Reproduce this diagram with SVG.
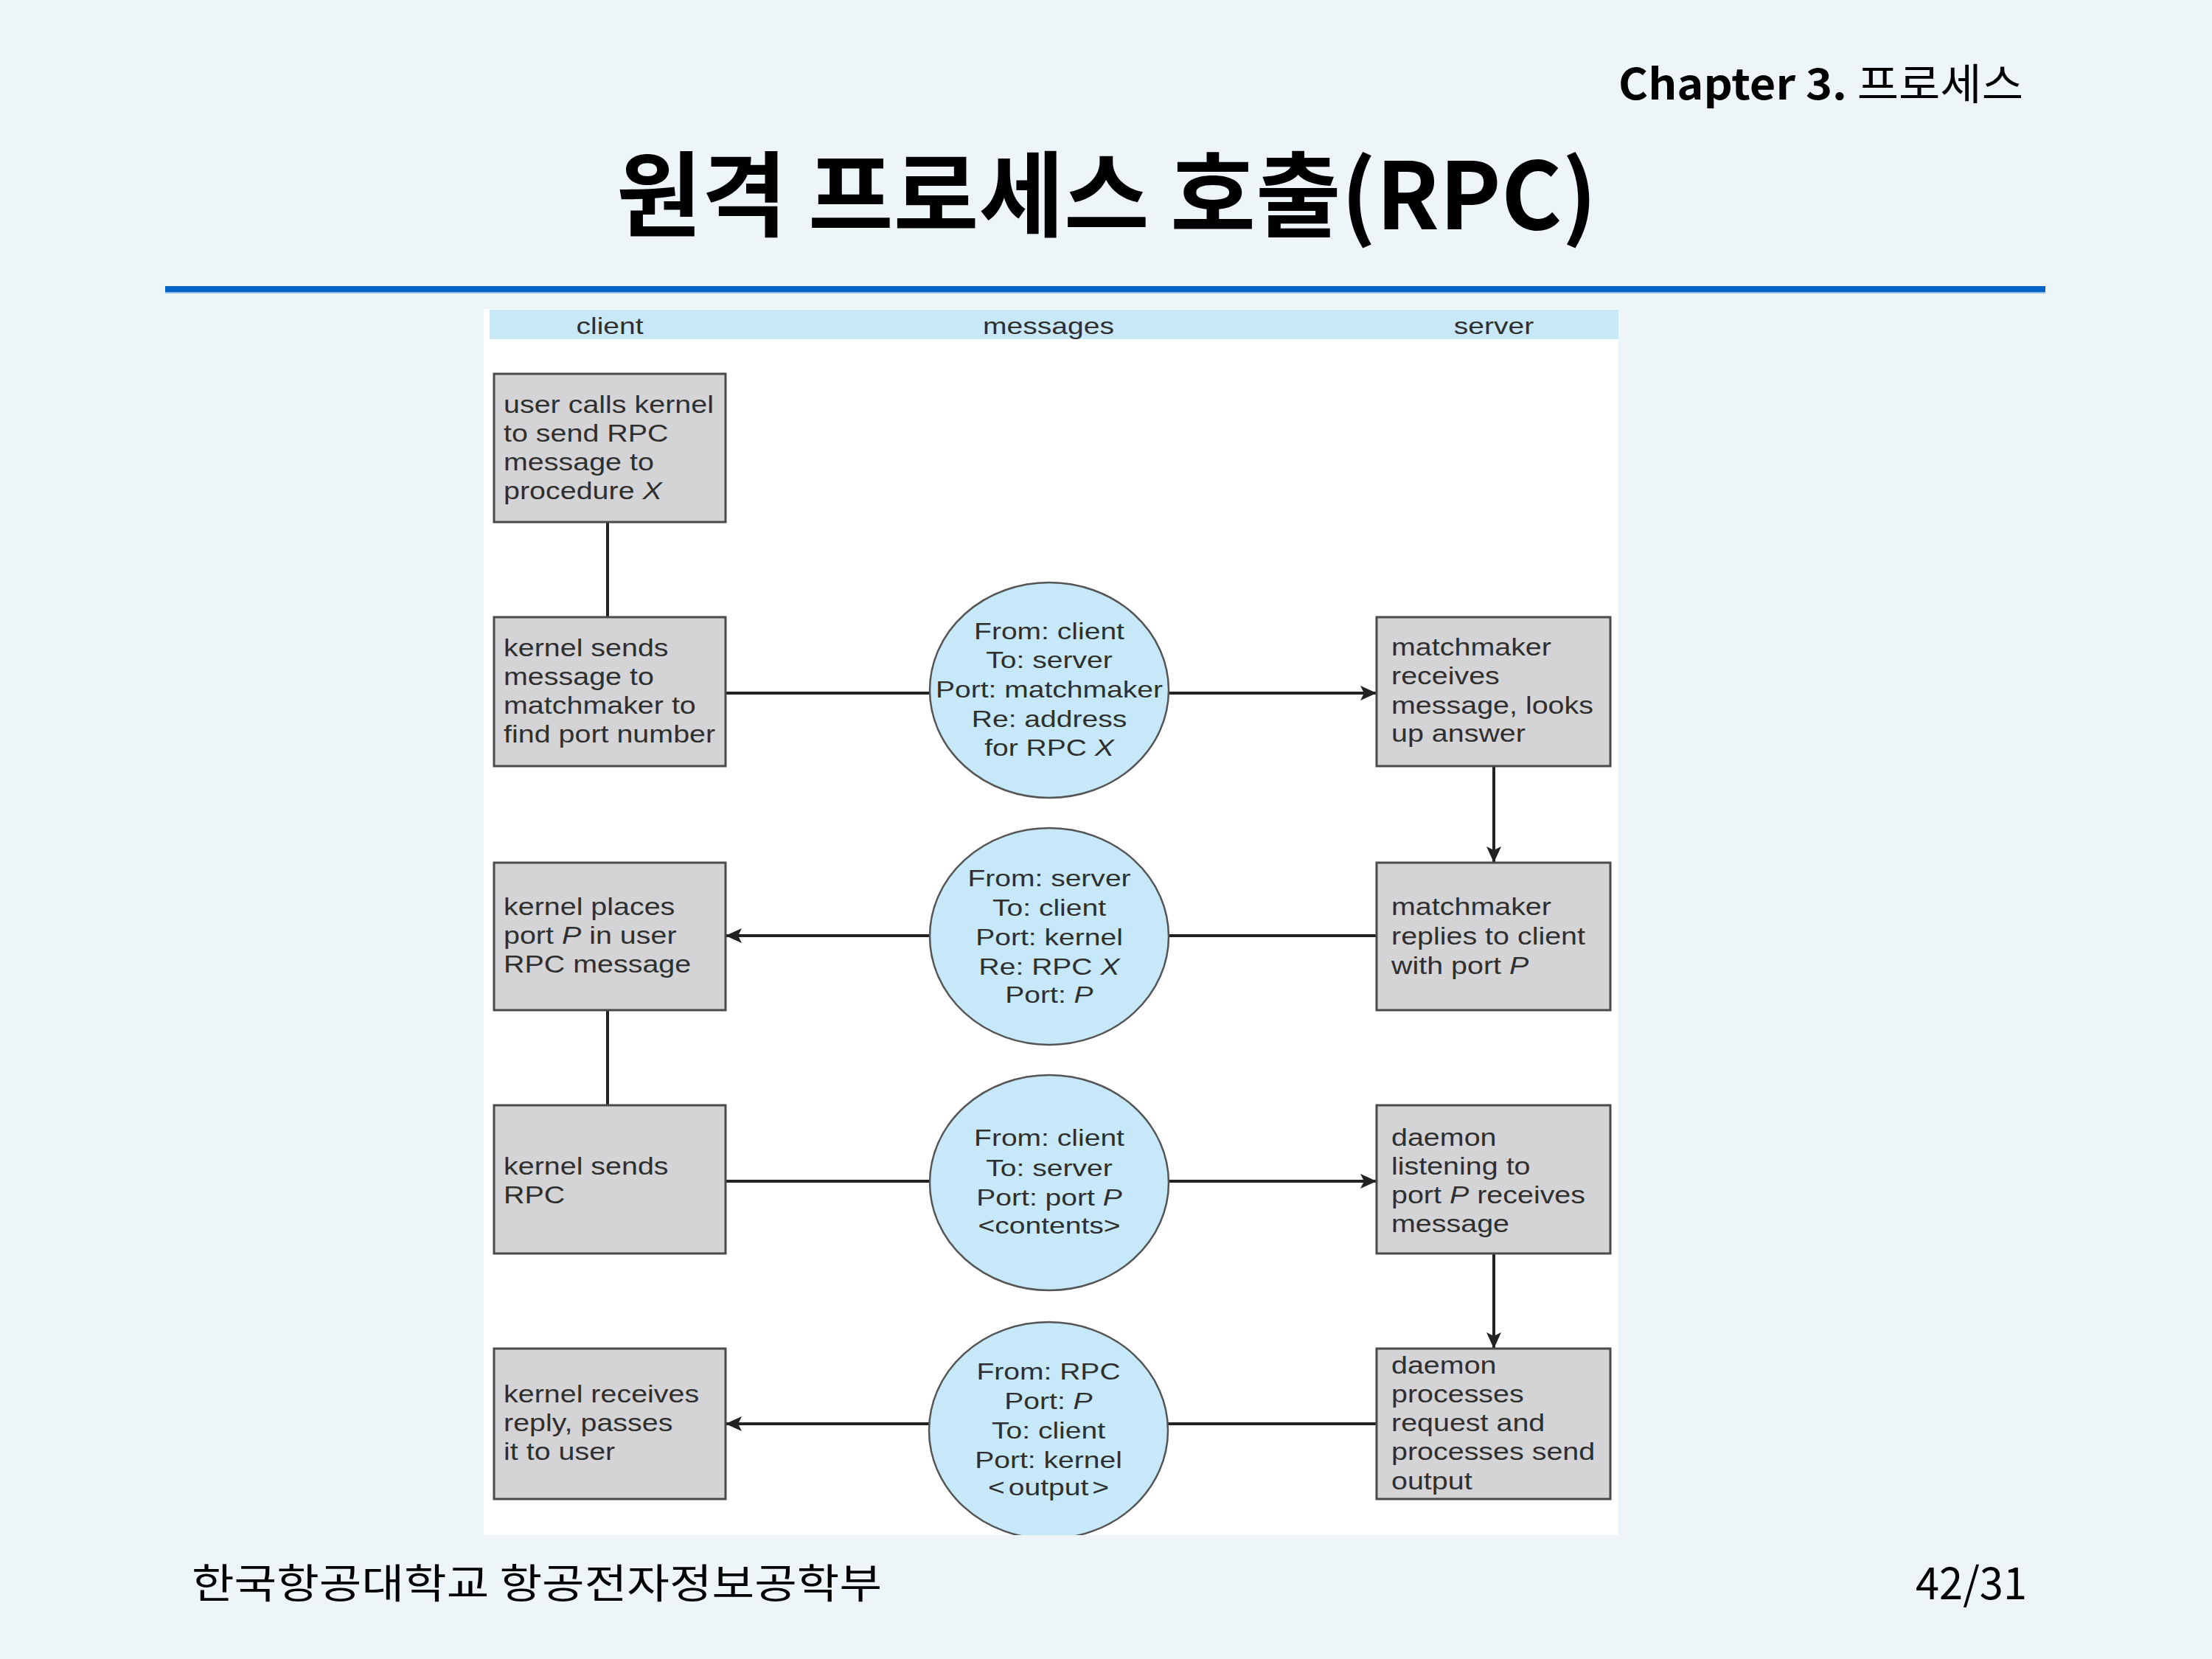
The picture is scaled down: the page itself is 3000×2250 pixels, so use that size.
<svg xmlns="http://www.w3.org/2000/svg" width="3000" height="2250" viewBox="0 0 3000 2250">
  <style>
    .kr { font-family: "Noto Sans CJK KR", "Noto Sans", sans-serif; fill: #000; }
    .box { fill: #d4d4d6; stroke: #4a4a4a; stroke-width: 3; }
    .msg { fill: #c6e8f9; stroke: #555; stroke-width: 2.5; }
    .wire { fill: none; stroke: #222; stroke-width: 4; }
    .lbl { font-family: "Liberation Sans", Arial, sans-serif; font-size: 34px; fill: #2f2f2f; }
    .mlbl { font-family: "Liberation Sans", Arial, sans-serif; font-size: 32px; fill: #2f2f2f; text-anchor: middle; }
    .it { font-style: italic; }
  </style>
  <defs>
    <marker id="arrow" viewBox="0 0 22 20" refX="22" refY="10" markerWidth="22" markerHeight="20" markerUnits="userSpaceOnUse" orient="auto">
      <path d="M0,0 L22,10 L0,20 L5,10 z" fill="#222"/>
    </marker>
    <clipPath id="panelClip">
      <rect x="656" y="419" width="1539" height="1663"/>
    </clipPath>
  </defs>

  <!-- slide background -->
  <rect x="0" y="0" width="3000" height="2250" fill="#edf5f9"/>

  <!-- header -->
  <text class="kr" x="2195" y="135" font-size="58" textLength="549" lengthAdjust="spacingAndGlyphs"><tspan font-weight="bold">Chapter 3.</tspan> 프로세스</text>
  <text class="kr" x="836" y="311" font-size="126" font-weight="bold" textLength="1330" lengthAdjust="spacingAndGlyphs">원격 프로세스 호출(RPC)</text>
  <rect x="224" y="388" width="2550" height="8" fill="#0464c8"/>
  <rect x="224" y="396" width="2550" height="2" fill="#8fbde6"/>

  <!-- figure panel -->
  <rect x="656" y="419" width="1539" height="1663" fill="#ffffff"/>
  <rect x="664" y="420" width="1531" height="40" fill="#c8e8f8"/>
  <g id="columns">
    <g transform="translate(827 0) scale(1.22 1)"><text class="mlbl" x="0" y="453">client</text></g>
    <g transform="translate(1422 0) scale(1.22 1)"><text class="mlbl" x="0" y="453">messages</text></g>
    <g transform="translate(2026 0) scale(1.22 1)"><text class="mlbl" x="0" y="453">server</text></g>
  </g>

  <!-- connectors -->
  <g id="connectors">
    <path class="wire" d="M824,708 V837"/>
    <path class="wire" d="M984,940 H1867" marker-end="url(#arrow)"/>
    <path class="wire" d="M2026,1039 V1170" marker-end="url(#arrow)"/>
    <path class="wire" d="M1867,1269 H984" marker-end="url(#arrow)"/>
    <path class="wire" d="M824,1370 V1499"/>
    <path class="wire" d="M984,1602 H1867" marker-end="url(#arrow)"/>
    <path class="wire" d="M2026,1700 V1829" marker-end="url(#arrow)"/>
    <path class="wire" d="M1867,1931 H984" marker-end="url(#arrow)"/>
  </g>

  <!-- client side -->
  <g id="client-call">
    <rect class="box" x="670" y="507" width="314" height="201"/>
    <g transform="translate(683 0) scale(1.16 1)">
      <text class="lbl" x="0" y="560">user calls kernel</text>
      <text class="lbl" x="0" y="599">to send RPC</text>
      <text class="lbl" x="0" y="638">message to</text>
      <text class="lbl" x="0" y="677">procedure <tspan class="it">X</tspan></text>
    </g>
  </g>
  <g id="client-lookup">
    <rect class="box" x="670" y="837" width="314" height="202"/>
    <g transform="translate(683 0) scale(1.16 1)">
      <text class="lbl" x="0" y="890">kernel sends</text>
      <text class="lbl" x="0" y="929">message to</text>
      <text class="lbl" x="0" y="968">matchmaker to</text>
      <text class="lbl" x="0" y="1007">find port number</text>
    </g>
  </g>
  <g id="client-port">
    <rect class="box" x="670" y="1170" width="314" height="200"/>
    <g transform="translate(683 0) scale(1.16 1)">
      <text class="lbl" x="0" y="1241">kernel places</text>
      <text class="lbl" x="0" y="1280">port <tspan class="it">P</tspan> in user</text>
      <text class="lbl" x="0" y="1319">RPC message</text>
    </g>
  </g>
  <g id="client-send">
    <rect class="box" x="670" y="1499" width="314" height="201"/>
    <g transform="translate(683 0) scale(1.16 1)">
      <text class="lbl" x="0" y="1593">kernel sends</text>
      <text class="lbl" x="0" y="1632">RPC</text>
    </g>
  </g>
  <g id="client-reply">
    <rect class="box" x="670" y="1829" width="314" height="204"/>
    <g transform="translate(683 0) scale(1.16 1)">
      <text class="lbl" x="0" y="1902">kernel receives</text>
      <text class="lbl" x="0" y="1941">reply, passes</text>
      <text class="lbl" x="0" y="1980">it to user</text>
    </g>
  </g>

  <!-- messages -->
  <g id="msg-lookup">
    <ellipse class="msg" cx="1423" cy="936" rx="162" ry="146"/>
    <g transform="translate(1423 0) scale(1.22 1)">
      <text class="mlbl" x="0" y="867">From: client</text>
      <text class="mlbl" x="0" y="906">To: server</text>
      <text class="mlbl" x="0" y="946">Port: matchmaker</text>
      <text class="mlbl" x="0" y="986">Re: address</text>
      <text class="mlbl" x="0" y="1025">for RPC <tspan class="it">X</tspan></text>
    </g>
  </g>
  <g id="msg-port">
    <ellipse class="msg" cx="1423" cy="1270" rx="162" ry="147"/>
    <g transform="translate(1423 0) scale(1.22 1)">
      <text class="mlbl" x="0" y="1202">From: server</text>
      <text class="mlbl" x="0" y="1242">To: client</text>
      <text class="mlbl" x="0" y="1282">Port: kernel</text>
      <text class="mlbl" x="0" y="1322">Re: RPC <tspan class="it">X</tspan></text>
      <text class="mlbl" x="0" y="1360">Port: <tspan class="it">P</tspan></text>
    </g>
  </g>
  <g id="msg-call">
    <ellipse class="msg" cx="1423" cy="1604" rx="162" ry="146"/>
    <g transform="translate(1423 0) scale(1.22 1)">
      <text class="mlbl" x="0" y="1554">From: client</text>
      <text class="mlbl" x="0" y="1595">To: server</text>
      <text class="mlbl" x="0" y="1635">Port: port <tspan class="it">P</tspan></text>
      <text class="mlbl" x="0" y="1673">&lt;contents&gt;</text>
    </g>
  </g>
  <g id="msg-output">
    <ellipse class="msg" cx="1422" cy="1940" rx="162" ry="147" clip-path="url(#panelClip)"/>
    <g transform="translate(1422 0) scale(1.22 1)">
      <text class="mlbl" x="0" y="1871">From: RPC</text>
      <text class="mlbl" x="0" y="1911">Port: <tspan class="it">P</tspan></text>
      <text class="mlbl" x="0" y="1951">To: client</text>
      <text class="mlbl" x="0" y="1991">Port: kernel</text>
      <text class="mlbl" x="0" y="2028">&lt;<tspan dx="4">output</tspan><tspan dx="4">&gt;</tspan></text>
    </g>
  </g>

  <!-- server side -->
  <g id="server-lookup">
    <rect class="box" x="1867" y="837" width="317" height="202"/>
    <g transform="translate(1887 0) scale(1.16 1)">
      <text class="lbl" x="0" y="889">matchmaker</text>
      <text class="lbl" x="0" y="928">receives</text>
      <text class="lbl" x="0" y="968">message, looks</text>
      <text class="lbl" x="0" y="1006">up answer</text>
    </g>
  </g>
  <g id="server-reply">
    <rect class="box" x="1867" y="1170" width="317" height="200"/>
    <g transform="translate(1887 0) scale(1.16 1)">
      <text class="lbl" x="0" y="1241">matchmaker</text>
      <text class="lbl" x="0" y="1281">replies to client</text>
      <text class="lbl" x="0" y="1321">with port <tspan class="it">P</tspan></text>
    </g>
  </g>
  <g id="server-daemon">
    <rect class="box" x="1867" y="1499" width="317" height="201"/>
    <g transform="translate(1887 0) scale(1.16 1)">
      <text class="lbl" x="0" y="1554">daemon</text>
      <text class="lbl" x="0" y="1593">listening to</text>
      <text class="lbl" x="0" y="1632">port <tspan class="it">P</tspan> receives</text>
      <text class="lbl" x="0" y="1671">message</text>
    </g>
  </g>
  <g id="server-process">
    <rect class="box" x="1867" y="1829" width="317" height="204"/>
    <g transform="translate(1887 0) scale(1.16 1)">
      <text class="lbl" x="0" y="1863">daemon</text>
      <text class="lbl" x="0" y="1902">processes</text>
      <text class="lbl" x="0" y="1941">request and</text>
      <text class="lbl" x="0" y="1980">processes send</text>
      <text class="lbl" x="0" y="2020">output</text>
    </g>
  </g>

  <!-- footer -->
  <text class="kr" x="260" y="2167" font-size="55" textLength="936" lengthAdjust="spacingAndGlyphs">한국항공대학교 항공전자정보공학부</text>
  <text class="kr" x="2749" y="2169" font-size="60" text-anchor="end" textLength="151" lengthAdjust="spacingAndGlyphs">42/31</text>
</svg>
